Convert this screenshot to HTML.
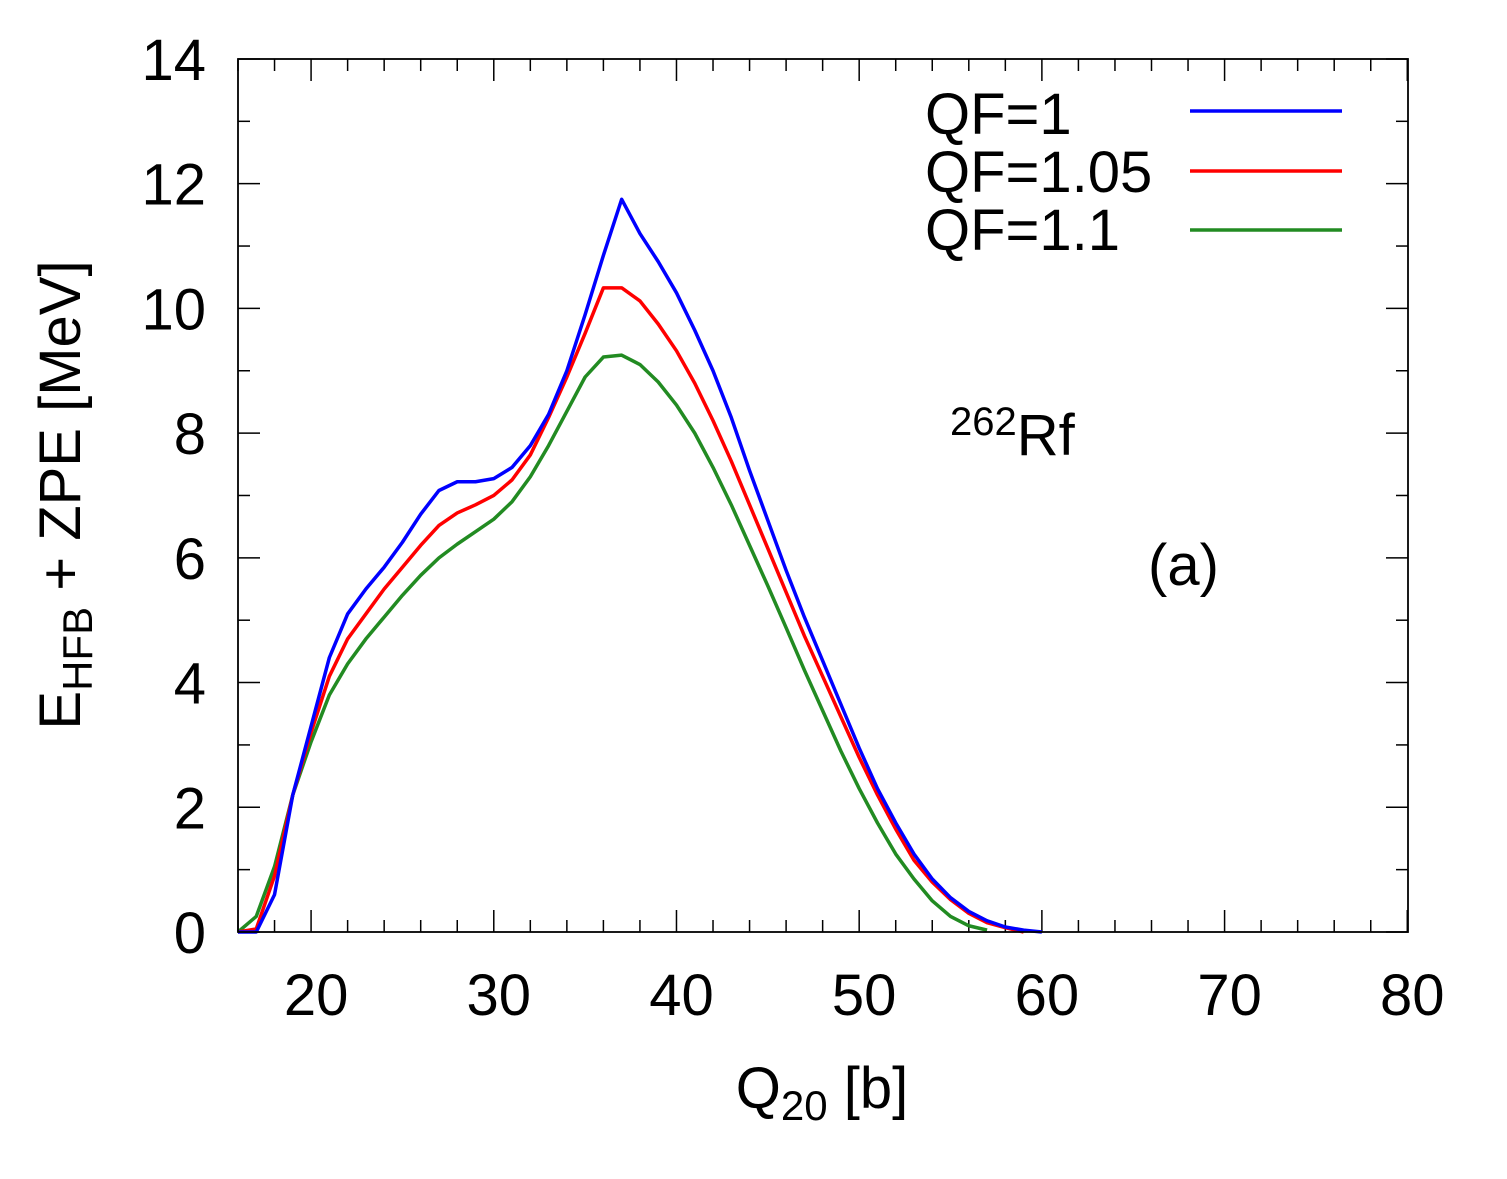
<!DOCTYPE html>
<html><head><meta charset="utf-8"><style>
body{margin:0;background:#fff}
svg{display:block;font-family:"Liberation Sans",sans-serif}
</style></head><body>
<svg id="s" width="1507" height="1179" viewBox="0 0 1507 1179" xmlns="http://www.w3.org/2000/svg">
<rect x="0" y="0" width="1507" height="1179" fill="#fff"/>
<g id="ticks" stroke="#000" stroke-width="1.5"></g>
<g id="curves" fill="none" stroke-width="3.5" stroke-linejoin="round"></g>
<rect x="238" y="59" width="1170" height="873" fill="none" stroke="#000" stroke-width="1.8"/>
<g font-size="58" text-anchor="end" id="ylab"></g>
<g font-size="58" text-anchor="middle" id="xlab"></g>
<text x="822" y="1108" font-size="58" text-anchor="middle">Q<tspan font-size="42" dy="12">20</tspan><tspan dy="-12"> [b]</tspan></text>
<text transform="translate(80,495) rotate(-90)" font-size="58" text-anchor="middle">E<tspan font-size="42" dy="12">HFB</tspan><tspan dy="-12"> + ZPE [MeV]</tspan></text>
<g font-size="58">
<text x="925" y="134">QF=1</text>
<text x="925" y="192">QF=1.05</text>
<text x="925" y="250">QF=1.1</text>
</g>
<line x1="1190" y1="111" x2="1342" y2="111" stroke="#0000ff" stroke-width="3.5"/>
<line x1="1190" y1="171" x2="1342" y2="171" stroke="#ff0000" stroke-width="3.5"/>
<line x1="1190" y1="230" x2="1342" y2="230" stroke="#228b22" stroke-width="3.5"/>
<text x="950" y="455" font-size="58"><tspan font-size="40" dy="-20">262</tspan><tspan dy="20">Rf</tspan></text>
<text x="1148" y="585" font-size="58">(a)</text>
</svg>
<script>
const X=q=>238+(q-16)*18.27, Y=v=>932-v*62.36;
const NS="http://www.w3.org/2000/svg";
function el(p,t,a,txt){const e=document.createElementNS(NS,t);for(const k in a)e.setAttribute(k,a[k]);if(txt!==undefined)e.textContent=txt;document.getElementById(p).appendChild(e);}
for(let q=16;q<=80;q+=2){const maj=q%10==0;const l=maj?22:12;const x=X(q);
el("ticks","line",{x1:x,y1:932,x2:x,y2:932-l});el("ticks","line",{x1:x,y1:59,x2:x,y2:59+l});
if(maj)el("xlab","text",{x:x+5,y:1015},q);}
for(let v=0;v<=14;v++){const maj=v%2==0;const l=maj?22:12;const y=Y(v);
el("ticks","line",{x1:238,y1:y,x2:238+l,y2:y});el("ticks","line",{x1:1408,y1:y,x2:1408-l,y2:y});
if(maj)el("ylab","text",{x:206,y:y+21},v);}
const B=[0,0,0.6,2.2,3.3,4.4,5.1,5.5,5.85,6.25,6.7,7.08,7.22,7.22,7.27,7.45,7.8,8.3,9.0,9.9,10.85,11.75,11.2,10.75,10.25,9.65,9.0,8.25,7.4,6.6,5.8,5.05,4.35,3.65,2.95,2.3,1.75,1.25,0.85,0.55,0.33,0.18,0.08,0.03,0];
const R=[0,0.05,0.9,2.2,3.2,4.1,4.7,5.1,5.5,5.85,6.2,6.52,6.72,6.85,7.0,7.25,7.65,8.25,8.9,9.6,10.33,10.33,10.12,9.75,9.32,8.8,8.2,7.55,6.85,6.15,5.45,4.75,4.1,3.45,2.8,2.2,1.65,1.15,0.8,0.52,0.3,0.15,0.07,0];
const G=[0,0.25,1.05,2.2,3.05,3.8,4.3,4.7,5.05,5.4,5.72,6.0,6.22,6.42,6.62,6.9,7.3,7.8,8.35,8.9,9.22,9.25,9.1,8.82,8.45,8.0,7.45,6.85,6.2,5.55,4.88,4.2,3.55,2.9,2.3,1.75,1.25,0.85,0.5,0.25,0.1,0.03];
[[G,"#228b22"],[R,"#ff0000"],[B,"#0000ff"]].forEach(([d,c])=>{el("curves","polyline",{stroke:c,points:d.map((v,i)=>X(16+i)+","+Y(v)).join(" ")});});
</script>
</body></html>
